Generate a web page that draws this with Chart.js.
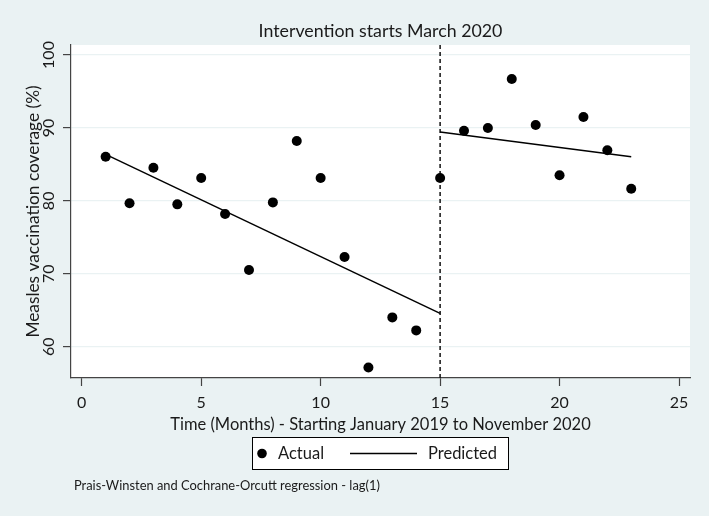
<!DOCTYPE html>
<html>
<head>
<meta charset="utf-8">
<script src="https://cdn.jsdelivr.net/npm/chart.js@4"></script>
<style>
  html, body { margin: 0; padding: 0; background: #eaf2f3; }
  canvas { display: block; }
</style>
</head>
<body>
<canvas id="c" width="709" height="516"></canvas>
<script>
// ---- Data ----
const months = [1,2,3,4,5,6,7,8,9,10,11,12,13,14,15,16,17,18,19,20,21,22,23];
const actualCoverage = [86.05,79.66,84.54,79.52,83.13,78.19,70.51,79.79,88.2,83.13,72.3,57.16,64.02,62.24,83.13,89.6,89.99,96.7,90.4,83.5,91.5,86.93,81.66];
const preMonths = [1, 15];
const prePredicted = [86.38, 64.57];
const postMonths = [15, 23];
const postPredicted = [89.44, 86.05];
const interventionMonth = 15;
const xTicks = [0, 5, 10, 15, 20, 25];
const yTicks = [60, 70, 80, 90, 100];
const X_MIN = -0.45, X_MAX = 25.46;
const Y_MIN = 55.71, Y_MAX = 101.37;

const titleText = 'Intervention starts March 2020';
const xTitle = 'Time (Months) - Starting January 2019 to November 2020';
const yTitle = 'Measles vaccination coverage (%)';
const legendLabels = ['Actual', 'Predicted'];
const noteText = 'Prais-Winsten and Cochrane-Orcutt regression - lag(1)';

const FONT = 'Lato, "Open Sans", sans-serif';
const BG = '#eaf2f3';
const TXT = '#1a1a1a';

const toXY = (xs, ys) => xs.map((x, i) => ({x, y: ys[i]}));

const decor = {
  id: 'decor',
  beforeDraw(chart) {
    const {ctx, chartArea: a} = chart;
    ctx.save();
    ctx.fillStyle = BG;
    ctx.fillRect(0, 0, chart.width, chart.height);
    ctx.fillStyle = '#ffffff';
    ctx.fillRect(a.left, a.top, a.right - a.left, a.bottom - a.top);
    ctx.restore();
  },
  afterDraw(chart) {
    const {ctx, chartArea: a} = chart;
    const cx = (a.left + a.right) / 2;
    ctx.save();
    // Title
    ctx.fillStyle = TXT;
    ctx.font = '17.8px ' + FONT;
    ctx.textAlign = 'center';
    ctx.textBaseline = 'middle';
    ctx.fillText(titleText, cx, 31);
    // Legend
    const bx = 252, by = 437, bw = 257, bh = 33;
    ctx.fillStyle = '#ffffff';
    ctx.fillRect(bx, by, bw, bh);
    ctx.strokeStyle = '#000000';
    ctx.lineWidth = 1;
    ctx.strokeRect(bx + 0.5, by + 0.5, bw - 1, bh - 1);
    const ly = by + bh / 2;
    ctx.fillStyle = '#000000';
    ctx.beginPath();
    ctx.arc(262, ly, 4.8, 0, Math.PI * 2);
    ctx.fill();
    ctx.font = '16.5px ' + FONT;
    ctx.textAlign = 'left';
    ctx.fillStyle = TXT;
    ctx.fillText(legendLabels[0], 278, ly);
    ctx.strokeStyle = '#000000';
    ctx.lineWidth = 1.5;
    ctx.beginPath();
    ctx.moveTo(350, ly);
    ctx.lineTo(417, ly);
    ctx.stroke();
    ctx.fillText(legendLabels[1], 428, ly);
    // Note
    ctx.font = '12.9px ' + FONT;
    ctx.fillText(noteText, 74, 486);
    ctx.restore();
  }
};

new Chart(document.getElementById('c'), {
  type: 'scatter',
  data: {
    datasets: [
      {
        label: 'Intervention',
        data: toXY([interventionMonth, interventionMonth], [Y_MIN, Y_MAX]),
        showLine: true,
        borderColor: '#111111',
        borderWidth: 1.5,
        borderDash: [4, 3],
        pointRadius: 0,
        order: 3
      },
      {
        label: legendLabels[1],
        data: toXY(preMonths, prePredicted),
        showLine: true,
        borderColor: '#000000',
        borderWidth: 1.5,
        pointRadius: 0,
        order: 2
      },
      {
        label: legendLabels[1] + ' (post)',
        data: toXY(postMonths, postPredicted),
        showLine: true,
        borderColor: '#000000',
        borderWidth: 1.5,
        pointRadius: 0,
        order: 2
      },
      {
        label: legendLabels[0],
        data: toXY(months, actualCoverage),
        showLine: false,
        backgroundColor: '#000000',
        borderColor: '#000000',
        pointRadius: 5,
        pointBorderWidth: 0,
        order: 1
      }
    ]
  },
  options: {
    responsive: false,
    animation: false,
    events: [],
    layout: { padding: { top: 45, right: 19, left: 0, bottom: 0 } },
    plugins: {
      legend: { display: false },
      title: { display: false },
      tooltip: { enabled: false }
    },
    scales: {
      x: {
        type: 'linear',
        min: X_MIN, max: X_MAX,
        afterFit(s) { s.height = 138; },
        afterBuildTicks(s) { s.ticks = xTicks.map(v => ({value: v})); },
        grid: { drawOnChartArea: false, drawTicks: true, tickLength: 8, tickColor: '#444', tickWidth: 1.2 },
        border: { display: true, color: '#444', width: 1.2 },
        ticks: { color: TXT, font: { family: FONT, size: 16 }, padding: 7, maxRotation: 0 },
        title: { display: true, text: xTitle, color: TXT, font: { family: FONT, size: 16.5 }, padding: { top: 0, bottom: 81 } }
      },
      y: {
        type: 'linear',
        min: Y_MIN, max: Y_MAX,
        afterFit(s) { s.width = 71; },
        afterBuildTicks(s) { s.ticks = yTicks.map(v => ({value: v})); },
        grid: { color: BG, lineWidth: 1.2, drawTicks: true, tickLength: 8, tickColor: '#444', tickWidth: 1.2 },
        border: { display: true, color: '#444', width: 1.2 },
        ticks: { color: TXT, font: { family: FONT, size: 16 }, padding: 0, minRotation: 90, maxRotation: 90, crossAlign: 'center' },
        title: { display: true, text: yTitle, color: TXT, font: { family: FONT, size: 17.3 }, padding: { top: 23.5, bottom: 0 } }
      }
    }
  },
  plugins: [decor]
});
</script>
</body>
</html>
